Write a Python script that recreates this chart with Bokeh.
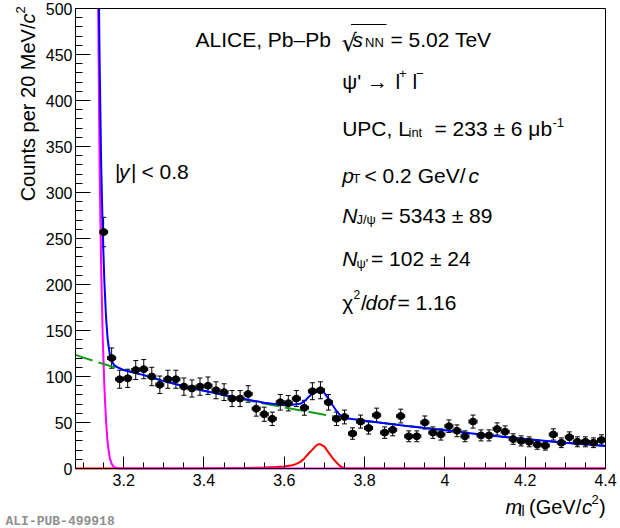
import numpy as np
from bokeh.plotting import figure
from bokeh.models import (ColumnDataSource, Label, Whisker, TeeHead, FixedTicker,
                          CustomJSTickFormatter, Range1d, LinearAxis)
from bokeh.embed import file_html
from bokeh.resources import INLINE

# ---------------- data ----------------
mass = [3.15, 3.17, 3.19, 3.21, 3.23, 3.25, 3.27, 3.29, 3.31, 3.33,
        3.35, 3.37, 3.39, 3.41, 3.43, 3.45, 3.47, 3.49, 3.51, 3.53,
        3.55, 3.57, 3.59, 3.61, 3.63, 3.65, 3.67, 3.69, 3.71, 3.73,
        3.75, 3.77, 3.79, 3.81, 3.83, 3.85, 3.87, 3.89, 3.91, 3.93,
        3.95, 3.97, 3.99, 4.01, 4.03, 4.05, 4.07, 4.09, 4.11, 4.13,
        4.15, 4.17, 4.19, 4.21, 4.23, 4.25, 4.27, 4.29, 4.31, 4.33,
        4.35, 4.37, 4.39]
counts = [257, 120, 97, 98, 107, 108, 100, 91, 97, 97,
          89, 87, 89, 90, 85, 83, 76, 76, 81, 65,
          59, 54, 72, 71, 76, 66, 84, 85, 72, 54,
          56, 38, 51, 44, 58, 39, 42, 57, 35, 35,
          50, 39, 37, 46, 41, 35, 51, 36, 36, 43,
          40, 32, 30, 29, 26, 25, 37, 28, 34, 29,
          29, 28, 31]
errors = [16.0, 11.0, 9.8, 9.9, 10.3, 10.4, 10.0, 9.5, 9.8, 9.8,
          9.4, 9.3, 9.4, 9.5, 9.2, 9.1, 8.7, 8.7, 9.0, 8.1,
          7.7, 7.3, 8.5, 8.4, 8.7, 8.1, 9.2, 9.2, 8.5, 7.3,
          7.5, 6.2, 7.1, 6.6, 7.6, 6.2, 6.5, 7.5, 5.9, 5.9,
          7.1, 6.2, 6.1, 6.8, 6.4, 5.9, 7.1, 6.0, 6.0, 6.6,
          6.3, 5.7, 5.5, 5.4, 5.1, 5.0, 6.1, 5.3, 5.8, 5.4,
          5.4, 5.3, 5.6]
bin_half_width = 0.01

# fit curves (visible part, up to the frame top at 500)
total_x = [3.1386, 3.140, 3.144, 3.148, 3.152, 3.156, 3.160, 3.165, 3.170, 3.176,
           3.185, 3.19, 3.20, 3.25, 3.30, 3.35, 3.40, 3.45, 3.50, 3.55,
           3.58, 3.60, 3.62, 3.64, 3.65, 3.66, 3.67, 3.68, 3.69, 3.70,
           3.71, 3.72, 3.73, 3.74, 3.75, 3.76, 3.80, 3.90, 4.00, 4.10,
           4.20, 4.30, 4.40]
total_y = [500, 445, 330, 255, 202, 165, 141, 125, 117, 112.5,
           110, 109, 107, 101.5, 95, 89.5, 84.5, 79.8, 75.6, 71.5,
           69.8, 68.7, 69.3, 70.5, 73, 77.5, 81.5, 84.5, 85.5, 82,
           76, 69, 62.5, 57.5, 55.5, 54.3, 52, 46.5, 41.5, 36.5,
           32, 28, 24.5]

bkg_x = [3.08, 3.10, 3.15, 3.20, 3.25, 3.30, 3.35, 3.40, 3.45, 3.50,
         3.55, 3.60, 3.65, 3.70, 3.75, 3.80, 3.90, 4.00, 4.10, 4.20,
         4.30, 4.40]
bkg_y = [123.5, 120.5, 113.5, 107, 101.5, 95, 89.5, 84.5, 79.5, 75,
         70.5, 66.5, 62.5, 58.5, 55, 52, 46.5, 41.5, 36.5, 32,
         28, 24.5]

jpsi_x = [3.1365, 3.140, 3.144, 3.148, 3.152, 3.156, 3.160, 3.165, 3.170,
          3.176, 3.185, 3.19, 4.40]
jpsi_y = [500, 330, 215, 140, 88, 52, 28, 12, 5,
          1.5, 0.2, 0, 0]

psi2s_x = [3.08, 3.40, 3.50, 3.55, 3.58, 3.60, 3.62, 3.63, 3.64, 3.65,
           3.66, 3.67, 3.68, 3.686, 3.69, 3.70, 3.71, 3.72, 3.73, 3.74,
           3.75, 3.76, 4.40]
psi2s_y = [0, 0.2, 0.6, 1.0, 1.5, 2.2, 3.6, 5.0, 7.2, 11.0,
           16.0, 20.5, 25.2, 26.5, 26.3, 23.8, 17.5, 11.5, 6.5, 2.2,
           0.3, 0, 0]

x_major = [3.2, 3.4, 3.6, 3.8, 4.0, 4.2, 4.4]
y_major = [0, 50, 100, 150, 200, 250, 300, 350, 400, 450, 500]
X_MIN, X_MAX = 3.08, 4.4
Y_MIN, Y_MAX = 0, 500

# ---------------- layout geometry (canvas pixels) ----------------
W, H = 620, 528
FL, FR, FT, FB = 75, 605, 8, 468        # axes box inside the canvas
XPP = (X_MAX - X_MIN) / (FR - FL)
YPP = (Y_MAX - Y_MIN) / (FB - FT)

FONT = "Liberation Sans"
p = figure(x_range=Range1d(X_MIN - FL * XPP, X_MAX + (W - FR) * XPP),
           y_range=Range1d(Y_MIN - (H - FB) * YPP, Y_MAX + FT * YPP),
           width=W, height=H, min_border=0,
           x_axis_location=None, y_axis_location=None,
           output_backend="svg", toolbar_location=None)
p.xgrid.visible = False
p.ygrid.visible = False
p.background_fill_color = "white"
p.border_fill_color = "white"
p.outline_line_color = None

xfmt = CustomJSTickFormatter(code="return String(Math.round(tick*10)/10);")
yfmt = CustomJSTickFormatter(code="return tick.toFixed(0);")
xaxis = LinearAxis(fixed_location=Y_MIN, bounds=(X_MIN, X_MAX),
                   ticker=FixedTicker(ticks=x_major,
                                      minor_ticks=[round(3.10 + 0.05 * i, 2) for i in range(27)]),
                   formatter=xfmt)
yaxis = LinearAxis(fixed_location=X_MIN, bounds=(Y_MIN, Y_MAX),
                   ticker=FixedTicker(ticks=y_major, minor_ticks=list(range(0, 501, 10))),
                   formatter=yfmt)
for ax, maj, mnr, standoff in ((xaxis, 12, 6, 5), (yaxis, 15, 7, 3)):
    ax.major_tick_in = maj
    ax.major_tick_out = 0
    ax.minor_tick_in = mnr
    ax.minor_tick_out = 0
    ax.major_tick_line_color = "black"
    ax.minor_tick_line_color = "black"
    ax.axis_line_color = "black"
    ax.major_label_text_font = FONT
    ax.major_label_text_font_size = "16px"
    ax.major_label_text_color = "black"
    ax.major_label_standoff = standoff
    ax.axis_label = None
p.add_layout(xaxis, "below")
p.add_layout(yaxis, "left")

# plain box edges on top and right
top = LinearAxis(fixed_location=Y_MAX, bounds=(X_MIN, X_MAX),
                 ticker=FixedTicker(ticks=[], minor_ticks=[]))
right = LinearAxis(fixed_location=X_MAX, bounds=(Y_MIN, Y_MAX),
                   ticker=FixedTicker(ticks=[], minor_ticks=[]))
for ax in (top, right):
    ax.major_tick_line_color = None
    ax.minor_tick_line_color = None
    ax.major_label_text_color = None
    ax.axis_line_color = "black"
p.add_layout(top, "above")
p.add_layout(right, "right")

# curves
p.line(psi2s_x, psi2s_y, line_color="#ff0000", line_width=2)
p.line(jpsi_x, jpsi_y, line_color="#ff00ff", line_width=2)
p.line(bkg_x, bkg_y, line_color="#139b13", line_width=2, line_dash="18 6")
p.line(total_x, total_y, line_color="#0000ff", line_width=2)

# data with error bars
m = np.array(mass)
c = np.array(counts, dtype=float)
e = np.array(errors)
src = ColumnDataSource(dict(x=m, y=c, lo=c - e, hi=c + e,
                            xlo=m - bin_half_width, xhi=m + bin_half_width))
p.add_layout(Whisker(source=src, base="x", lower="lo", upper="hi", dimension="height",
                     line_color="black", line_width=1,
                     upper_head=TeeHead(size=5, line_width=1, line_color="black"),
                     lower_head=TeeHead(size=5, line_width=1, line_color="black")))
p.add_layout(Whisker(source=src, base="y", lower="xlo", upper="xhi", dimension="width",
                     line_color="black", line_width=1,
                     upper_head=TeeHead(size=4, line_width=1, line_color="black"),
                     lower_head=TeeHead(size=4, line_width=1, line_color="black")))
p.scatter("x", "y", source=src, size=7, marker="circle", color="black")

# ---------------- texts (positions given in canvas pixels) ----------------
def px2x(px):
    return X_MIN + (px - FL) * XPP

def py2y(py):
    return Y_MIN + (FB - py) * YPP

def txt(s, px, py, size=21, style="normal", angle=0, align="left", color="black", font=FONT):
    p.add_layout(Label(x=px2x(px), y=py2y(py), text=s, text_font=font,
                       text_font_size=f"{size}px", text_font_style=style,
                       text_align=align, text_baseline="alphabetic", angle=angle,
                       text_color=color))

# header
txt("ALICE, Pb–Pb", 195, 38.5)
txt("√", 341, 42, size=24, font="DejaVu Sans")
p.segment(x0=[px2x(350.5)], y0=[py2y(24)], x1=[px2x(386)], y1=[py2y(24)],
          line_color="black", line_width=1.2)
txt("s", 352, 38.5, style="italic")
txt("NN", 364.5, 42, size=13)
txt("= 5.02 TeV", 390, 38.5)

# psi' -> l+ l-
txt("ψ' →", 341.7, 80.5)
txt("l", 395, 80.5)
txt("+", 398.5, 73, size=13)
txt("l", 412, 80.5)
txt("−", 415.5, 73, size=13)

# UPC, Lint
txt("UPC, L", 341.7, 128.3)
txt("int", 408, 131.8, size=13)
txt("= 233 ± 6 μb", 434, 128.3)
txt("-1", 552, 122, size=13)

# pT
txt("p", 341.7, 174.5, style="italic")
txt("T", 352, 178, size=13)
txt("< 0.2 GeV/", 364, 174.5)
txt("c", 468, 174.5, style="italic")

# N J/psi
txt("N", 341.7, 215, style="italic")
txt("J/ψ", 356, 219, size=13)
txt("= 5343 ± 89", 380.5, 215)

# N psi'
txt("N", 341.7, 258.3, style="italic")
txt("ψ'", 356, 262.5, size=13)
txt("= 102 ± 24", 370.5, 258.3)

# chi2/dof
txt("χ", 341.7, 301.5)
txt("2", 353, 294, size=12)
txt("/", 360.5, 301.5)
txt("dof", 365, 301.5, style="italic")
txt("= 1.16", 397, 301.5)

# |y| < 0.8
txt("|", 114.5, 170.7)
txt("y", 118.5, 170.7, style="italic")
txt("|", 130.5, 170.7)
txt("< 0.8", 141, 170.7)

# x-axis title
txt("m", 505, 506.7, size=20, style="italic")
txt("ll", 518, 510.5, size=14)
txt("(GeV/", 528.5, 506.7, size=20)
txt("c", 581.5, 506.7, size=20, style="italic")
txt("2", 591, 499, size=13)
txt(")", 598.5, 506.7, size=20)

# y-axis title (rotated)
txt("Counts per 20 MeV/", 27, 23, size=20, angle=np.pi / 2, align="right")
txt("c", 27, 23, size=20, style="italic", angle=np.pi / 2)
txt("2", 20, 13, size=13, angle=np.pi / 2)

# publication tag
txt("ALI-PUB-499918", 5, 520.5, size=13, style="bold", color="#8f8f8f", font="Liberation Mono")

open("out.html", "w").write(file_html(p, INLINE))
